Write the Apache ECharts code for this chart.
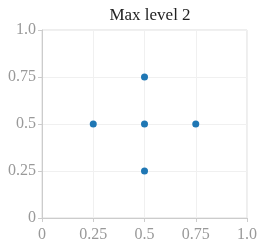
<!DOCTYPE html>
<html><head><meta charset="utf-8">
<script src="https://cdn.jsdelivr.net/npm/echarts@6/dist/echarts.min.js"></script>
<style>html,body{margin:0;padding:0;background:#fff}#c{width:266px;height:250px}</style>
</head><body><div id="c"></div>
<script>
var title = 'Max level 2';
var xValues = [0.25, 0.5, 0.75, 0.5, 0.5];
var yValues = [0.5, 0.5, 0.5, 0.25, 0.75];
var tickLabels = {0: '0', 0.25: '0.25', 0.5: '0.5', 0.75: '0.75', 1: '1.0'};
var pts = xValues.map(function (x, i) { return [x, yValues[i]]; });
var font = '"Liberation Serif", "Times New Roman", serif';
function fmt(v) { return tickLabels[v] !== undefined ? tickLabels[v] : String(v); }
var axisCommon = {
  min: 0, max: 1, interval: 0.25,
  axisLine: {show: true, lineStyle: {color: '#cccccc', width: 1}},
  axisTick: {show: true, length: 4, lineStyle: {color: '#cccccc'}},
  splitLine: {show: true, lineStyle: {color: '#f0f0f0', width: 1}},
  axisLabel: {color: '#999999', fontFamily: font, fontSize: 16, formatter: fmt}
};
var chart = echarts.init(document.getElementById('c'), null, {renderer: 'canvas'});
chart.setOption({
  animation: false,
  title: {text: title, left: 145, top: 2, textAlign: 'center',
    textStyle: {fontFamily: font, fontSize: 17, fontWeight: 'normal', color: '#222'}},
  grid: {left: 42, right: 19, top: 30, bottom: 32, show: true, borderColor: '#dddddd', borderWidth: 1},
  xAxis: Object.assign({type: 'value'}, axisCommon, {axisLabel: Object.assign({}, axisCommon.axisLabel, {margin: 9})}),
  yAxis: Object.assign({type: 'value'}, axisCommon, {axisLabel: Object.assign({}, axisCommon.axisLabel, {margin: 6})}),
  series: [{type: 'scatter', data: pts, symbolSize: 7, itemStyle: {color: '#1f77b4', opacity: 1}}]
});
</script></body></html>
